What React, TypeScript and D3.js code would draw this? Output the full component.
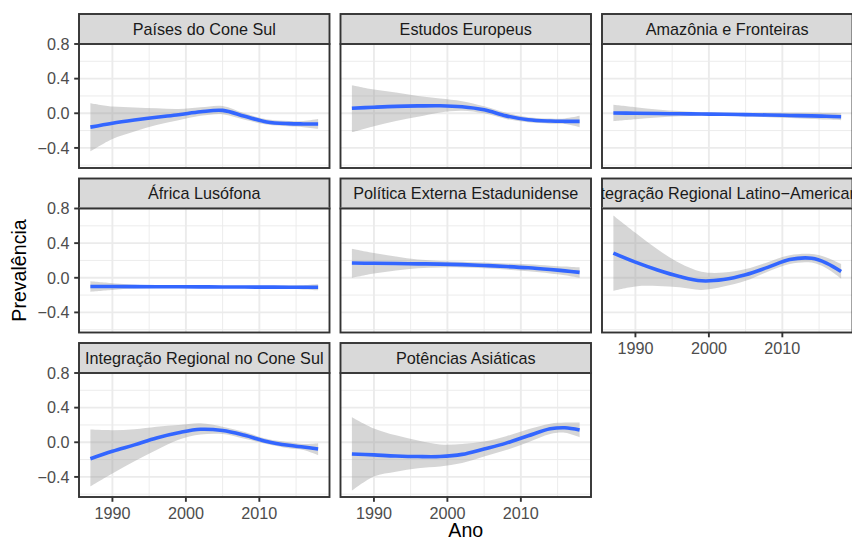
import React from "react";
import * as d3 from "d3";

// ---------- data ----------
const years = [1987, 1990, 1993, 1996, 1999, 2002, 2005, 2008, 2011, 2014, 2016, 2018];

const panelTitles = [
  "Países do Cone Sul",
  "Estudos Europeus",
  "Amazônia e Fronteiras",
  "África Lusófona",
  "Política Externa Estadunidense",
  "Integração Regional Latino−Americana",
  "Integração Regional no Cone Sul",
  "Potências Asiáticas",
];

const fitConeSul = [-0.16, -0.115, -0.078, -0.045, -0.017, 0.017, 0.033, -0.035, -0.1, -0.12, -0.123, -0.123];
const lowConeSul = [-0.44, -0.296, -0.21, -0.135, -0.08, -0.03, -0.01, -0.075, -0.13, -0.15, -0.16, -0.18];
const highConeSul = [0.115, 0.077, 0.068, 0.058, 0.05, 0.07, 0.085, 0.0, -0.07, -0.09, -0.088, -0.065];

const fitEuropa = [0.058, 0.07, 0.08, 0.085, 0.087, 0.075, 0.04, -0.03, -0.075, -0.09, -0.093, -0.093];
const lowEuropa = [-0.22, -0.15, -0.09, -0.04, 0.01, 0.03, 0.0, -0.065, -0.105, -0.12, -0.125, -0.16];
const highEuropa = [0.325, 0.275, 0.24, 0.2, 0.17, 0.14, 0.08, 0.005, -0.045, -0.06, -0.06, -0.03];

const fitAmazonia = [0.003, 0.0, -0.003, -0.006, -0.009, -0.012, -0.016, -0.02, -0.025, -0.03, -0.035, -0.04];
const lowAmazonia = [-0.092, -0.07, -0.05, -0.035, -0.028, -0.03, -0.036, -0.045, -0.055, -0.065, -0.072, -0.08];
const highAmazonia = [0.098, 0.07, 0.045, 0.025, 0.012, 0.006, 0.004, 0.005, 0.005, 0.005, 0.002, 0.0];

const fitAfrica = [-0.1, -0.101, -0.102, -0.103, -0.104, -0.105, -0.106, -0.107, -0.108, -0.109, -0.11, -0.11];
const lowAfrica = [-0.16, -0.14, -0.125, -0.118, -0.115, -0.115, -0.117, -0.12, -0.125, -0.13, -0.135, -0.145];
const highAfrica = [-0.04, -0.062, -0.08, -0.088, -0.093, -0.095, -0.095, -0.094, -0.091, -0.088, -0.085, -0.075];

const fitEUA = [0.17, 0.167, 0.164, 0.161, 0.158, 0.152, 0.142, 0.13, 0.115, 0.095, 0.08, 0.062];
const lowEUA = [0.0, 0.05, 0.085, 0.11, 0.12, 0.12, 0.11, 0.095, 0.075, 0.05, 0.03, 0.0];
const highEUA = [0.335, 0.285, 0.245, 0.21, 0.195, 0.185, 0.175, 0.165, 0.155, 0.14, 0.13, 0.12];

const fitLatAm = [0.285, 0.18, 0.09, 0.015, -0.035, -0.02, 0.035, 0.12, 0.21, 0.225, 0.17, 0.073];
const lowLatAm = [-0.15, -0.1, -0.095, -0.11, -0.14, -0.1, -0.035, 0.07, 0.16, 0.175, 0.11, -0.01];
const highLatAm = [0.72, 0.52, 0.33, 0.17, 0.07, 0.06, 0.1, 0.18, 0.26, 0.275, 0.235, 0.16];

const fitIntegCone = [-0.19, -0.104, -0.03, 0.05, 0.11, 0.15, 0.135, 0.08, 0.01, -0.035, -0.055, -0.077];
const lowIntegCone = [-0.51, -0.36, -0.22, -0.09, 0.03, 0.09, 0.095, 0.04, -0.02, -0.07, -0.09, -0.15];
const highIntegCone = [0.147, 0.14, 0.15, 0.18, 0.2, 0.22, 0.18, 0.12, 0.04, 0.0, -0.02, -0.01];

const fitAsia = [-0.135, -0.146, -0.158, -0.165, -0.165, -0.14, -0.077, -0.01, 0.075, 0.155, 0.168, 0.142];
const lowAsia = [-0.56, -0.396, -0.34, -0.3, -0.28, -0.24, -0.165, -0.09, 0.0, 0.095, 0.11, 0.058];
const highAsia = [0.29, 0.16, 0.08, 0.02, -0.025, -0.02, 0.008, 0.07, 0.15, 0.215, 0.228, 0.227];

const xTicks = [1990, 2000, 2010];
const xMinor = [1985, 1995, 2005, 2015];
const yTicks = [-0.4, 0, 0.4, 0.8];
const yMinor = [-0.6, -0.2, 0.2, 0.6];
const yTickLabels = ["−0.4", "0.0", "0.4", "0.8"];
const xTitle = "Ano";
const yTitle = "Prevalência";

const series = [
  [fitConeSul, lowConeSul, highConeSul],
  [fitEuropa, lowEuropa, highEuropa],
  [fitAmazonia, lowAmazonia, highAmazonia],
  [fitAfrica, lowAfrica, highAfrica],
  [fitEUA, lowEUA, highEUA],
  [fitLatAm, lowLatAm, highLatAm],
  [fitIntegCone, lowIntegCone, highIntegCone],
  [fitAsia, lowAsia, highAsia],
];

// ---------- layout ----------
const W = 852;
const H = 539;
const colLeft = [79, 340.5, 602];
const panelW = 250.5;
const rowTop = [14, 178.5, 343];
const stripH = 30;
const panelH = 124;
const font = "'Liberation Sans', Arial, Helvetica, sans-serif";
const fs = 16.2;

const x = d3.scaleLinear().domain([1985.45, 2019.55]).range([0, panelW]);
const y = d3.scaleLinear().domain([-0.632, 0.8]).range([panelH, 0]);

const curve = d3.curveCatmullRom.alpha(0.5);
const lineGen = d3
  .line<{ yr: number; fit: number }>()
  .x((d) => x(d.yr))
  .y((d) => y(d.fit))
  .curve(curve);
const areaGen = d3
  .area<{ yr: number; lo: number; hi: number }>()
  .x((d) => x(d.yr))
  .y0((d) => y(d.lo))
  .y1((d) => y(d.hi))
  .curve(curve);

export default function App() {
  return (
    <svg
      width={W}
      height={H}
      style={{ position: "absolute", left: 0, top: 0, background: "#fff" }}
      fontFamily={font}
    >
      <rect width={W} height={H} fill="#fff" />
      <defs>
        {panelTitles.map((_, i) => {
          const c = i % 3;
          const r = Math.floor(i / 3);
          return (
            <React.Fragment key={i}>
              <clipPath id={`strip${i}`}>
                <rect x={colLeft[c]} y={rowTop[r]} width={panelW} height={stripH} />
              </clipPath>
              <clipPath id={`panel${i}`}>
                <rect x={0} y={0} width={panelW} height={panelH} />
              </clipPath>
            </React.Fragment>
          );
        })}
      </defs>
      {panelTitles.map((title, i) => {
        const c = i % 3;
        const r = Math.floor(i / 3);
        const left = colLeft[c];
        const sTop = rowTop[r];
        const pTop = sTop + stripH;
        const [fit, lo, hi] = series[i];
        const rows = years.map((yr, k) => ({ yr, fit: fit[k], lo: lo[k], hi: hi[k] }));
        const showX = i >= 5;
        const showY = c === 0;
        return (
          <g key={i}>
            {/* strip */}
            <rect x={left} y={sTop} width={panelW} height={stripH} fill="#D9D9D9" stroke="#333333" strokeWidth={1.9} />
            <g clipPath={`url(#strip${i})`}>
              <text
                x={left + panelW / 2}
                y={sTop + stripH / 2 + 5.8}
                textAnchor="middle"
                fontSize={fs}
                fill="#1A1A1A"
              >
                {title}
              </text>
            </g>
            {/* panel */}
            <g transform={`translate(${left},${pTop})`}>
              <rect width={panelW} height={panelH} fill="#fff" />
              {xMinor.map((v) =>
                x(v) > 0 && x(v) < panelW ? (
                  <line key={`xm${v}`} x1={x(v)} x2={x(v)} y1={0} y2={panelH} stroke="#EBEBEB" strokeWidth={0.95} />
                ) : null
              )}
              {yMinor.map((v) => (
                <line key={`ym${v}`} x1={0} x2={panelW} y1={y(v)} y2={y(v)} stroke="#EBEBEB" strokeWidth={0.95} />
              ))}
              {xTicks.map((v) => (
                <line key={`xg${v}`} x1={x(v)} x2={x(v)} y1={0} y2={panelH} stroke="#EBEBEB" strokeWidth={1.9} />
              ))}
              {yTicks.map((v) => (
                <line key={`yg${v}`} x1={0} x2={panelW} y1={y(v)} y2={y(v)} stroke="#EBEBEB" strokeWidth={1.9} />
              ))}
              <g clipPath={`url(#panel${i})`}>
                <path d={areaGen(rows) || ""} fill="#999999" fillOpacity={0.4} />
                <path d={lineGen(rows) || ""} fill="none" stroke="#3366FF" strokeWidth={3.6} />
              </g>
              <rect width={panelW} height={panelH} fill="none" stroke="#333333" strokeWidth={1.9} />
              {showY &&
                yTicks.map((v, k) => (
                  <g key={`yt${v}`}>
                    <line x1={-4.8} x2={0} y1={y(v)} y2={y(v)} stroke="#333333" strokeWidth={1.9} />
                    <text x={-9.5} y={y(v) + 5.8} textAnchor="end" fontSize={fs} fill="#4D4D4D">
                      {yTickLabels[k]}
                    </text>
                  </g>
                ))}
              {showX &&
                xTicks.map((v) => (
                  <g key={`xt${v}`}>
                    <line x1={x(v)} x2={x(v)} y1={panelH} y2={panelH + 4.8} stroke="#333333" strokeWidth={1.9} />
                    <text x={x(v)} y={panelH + 21.5} textAnchor="middle" fontSize={fs} fill="#4D4D4D">
                      {String(v)}
                    </text>
                  </g>
                ))}
            </g>
          </g>
        );
      })}
      {/* axis titles */}
      <text x={(colLeft[0] + colLeft[2] + panelW) / 2} y={537} textAnchor="middle" fontSize={19.6} fill="#000">
        {xTitle}
      </text>
      <text
        transform={`translate(26,${(rowTop[0] + stripH + rowTop[2] + stripH + panelH) / 2}) rotate(-90)`}
        textAnchor="middle"
        fontSize={19.6}
        fill="#000"
      >
        {yTitle}
      </text>
    </svg>
  );
}
